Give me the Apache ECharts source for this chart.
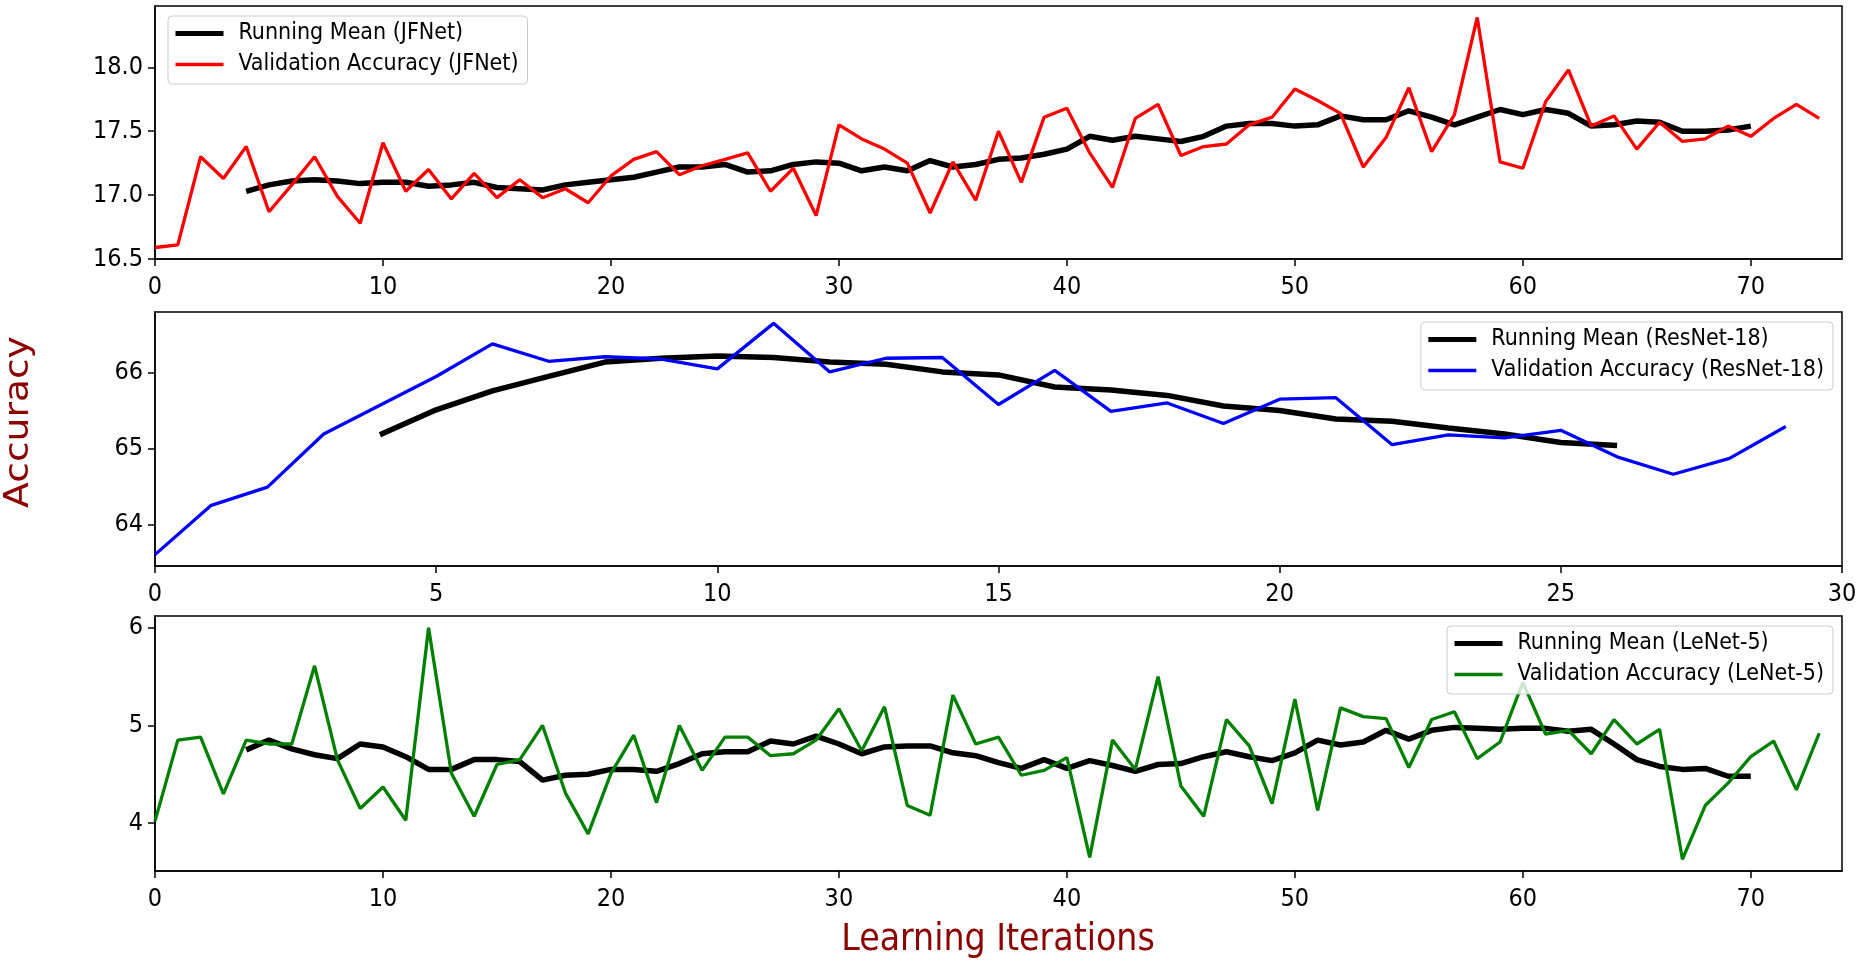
<!DOCTYPE html>
<html>
<head>
<meta charset="utf-8">
<title>Validation accuracy and running mean</title>
<script src="https://cdn.jsdelivr.net/npm/echarts@6/dist/echarts.min.js"></script>
<style>
  html, body { margin: 0; padding: 0; background: #fff; }
  #chart { width: 1865px; height: 960px; }
</style>
</head>
<body>
<div id="chart"></div>
<script>
// ---- data ----
// JFNet: validation accuracy per iteration (0..73), running mean from iteration 4
var jfnetValAcc = [
  16.59, 16.61, 17.30, 17.13, 17.38, 16.87, 17.08, 17.30, 16.99, 16.78,
  17.41, 17.03, 17.20, 16.97, 17.17, 16.98, 17.12, 16.98, 17.05, 16.94,
  17.15, 17.28, 17.34, 17.16, 17.23, 17.28, 17.33, 17.03, 17.21, 16.84,
  17.55, 17.44, 17.36, 17.25, 16.86, 17.26, 16.96, 17.50, 17.10, 17.61,
  17.68, 17.33, 17.06, 17.60, 17.71, 17.31, 17.38, 17.40, 17.55, 17.61,
  17.83, 17.74, 17.64, 17.22, 17.45, 17.84, 17.34, 17.63, 18.39, 17.26,
  17.21, 17.73, 17.98, 17.54, 17.62, 17.36, 17.57, 17.42, 17.44, 17.54,
  17.46, 17.60, 17.71, 17.60
];
var jfnetMeanStart = 4;
var jfnetMean = [
  17.03, 17.08, 17.11, 17.12, 17.11, 17.09, 17.10, 17.10, 17.07, 17.08,
  17.10, 17.06, 17.05, 17.04, 17.08, 17.10, 17.12, 17.14, 17.18, 17.22,
  17.22, 17.24, 17.18, 17.19, 17.24, 17.26, 17.25, 17.19, 17.22, 17.19,
  17.27, 17.22, 17.24, 17.28, 17.29, 17.32, 17.36, 17.46, 17.43, 17.46,
  17.44, 17.42, 17.46, 17.54, 17.56, 17.56, 17.54, 17.55, 17.62, 17.59,
  17.59, 17.66, 17.61, 17.55, 17.61, 17.67, 17.63, 17.67, 17.64, 17.54,
  17.55, 17.58, 17.57, 17.50, 17.50, 17.51, 17.54
];

// ResNet-18: iterations 0..29, running mean from iteration 4
var resnetValAcc = [
  63.60, 64.25, 64.49, 65.19, 65.57, 65.95, 66.38, 66.15, 66.21, 66.18,
  66.05, 66.65, 66.01, 66.19, 66.20, 65.58, 66.03, 65.49, 65.60, 65.33,
  65.65, 65.67, 65.05, 65.18, 65.14, 65.24, 64.89, 64.66, 64.87, 65.29
];
var resnetMeanStart = 4;
var resnetMean = [
  65.18, 65.51, 65.76, 65.95, 66.14, 66.19, 66.22, 66.20, 66.14, 66.11,
  66.01, 65.97, 65.81, 65.77, 65.70, 65.56, 65.50, 65.39, 65.36, 65.27,
  65.19, 65.08, 65.04
];

// LeNet-5: iterations 0..73, running mean from iteration 4
var lenetValAcc = [
  4.02, 4.85, 4.88, 4.30, 4.85, 4.81, 4.81, 5.61, 4.65, 4.15,
  4.37, 4.03, 6.00, 4.51, 4.07, 4.60, 4.65, 5.00, 4.31, 3.89,
  4.51, 4.90, 4.21, 5.00, 4.54, 4.88, 4.88, 4.69, 4.71, 4.85,
  5.17, 4.74, 5.19, 4.18, 4.08, 5.31, 4.81, 4.88, 4.49, 4.54,
  4.67, 3.65, 4.85, 4.55, 5.50, 4.38, 4.07, 5.06, 4.79, 4.20,
  5.27, 4.13, 5.18, 5.09, 5.07, 4.57, 5.06, 5.14, 4.66, 4.83,
  5.44, 4.91, 4.95, 4.71, 5.06, 4.81, 4.96, 3.63, 4.18, 4.41,
  4.68, 4.84, 4.34, 4.92
];
var lenetMeanStart = 4;
var lenetMean = [
  4.75, 4.85, 4.76, 4.70, 4.66, 4.81, 4.78, 4.68, 4.55, 4.55,
  4.65, 4.65, 4.63, 4.44, 4.49, 4.50, 4.55, 4.55, 4.53, 4.61,
  4.71, 4.73, 4.73, 4.84, 4.81, 4.89, 4.81, 4.71, 4.78, 4.79,
  4.79, 4.72, 4.69, 4.62, 4.56, 4.65, 4.56, 4.64, 4.59, 4.53,
  4.60, 4.61, 4.68, 4.73, 4.68, 4.64, 4.72, 4.85, 4.80, 4.83,
  4.95, 4.86, 4.95, 4.98, 4.97, 4.96, 4.97, 4.97, 4.94, 4.96,
  4.81, 4.65, 4.58, 4.55, 4.56, 4.48, 4.48
];

// tick labels
var xTicksLong = [0, 10, 20, 30, 40, 50, 60, 70];
var xTicksShort = [0, 5, 10, 15, 20, 25, 30];
var yTicksJFNet = [16.5, 17.0, 17.5, 18.0];
var yTicksResNet = [64, 65, 66];
var yTicksLeNet = [4, 5, 6];

// ---- chart ----
var FONT = 'DejaVu Sans Condensed, DejaVu Sans';
var LABEL_RED = '#8b0000';
var MEAN_W = 5.5, ACC_W = 3.3;

function pairs(values, start) {
  return values.map(function (v, i) { return [start + i, v]; });
}

function xAxis(grid, max, ticks) {
  return {
    type: 'value', gridIndex: grid, min: 0, max: max,
    axisLine: { onZero: false, lineStyle: { color: '#000', width: 1.5 } },
    axisTick: { customValues: ticks, length: 7, lineStyle: { color: '#000', width: 1.5 } },
    axisLabel: { customValues: ticks, margin: 16, color: '#000', fontSize: 25, fontFamily: FONT },
    splitLine: { show: false }
  };
}

function yAxis(grid, min, max, ticks, digits) {
  return {
    type: 'value', gridIndex: grid, min: min, max: max,
    axisLine: { show: true, lineStyle: { color: '#000', width: 1.5 } },
    axisTick: { show: true, customValues: ticks, length: 7, lineStyle: { color: '#000', width: 1.5 } },
    axisLabel: {
      customValues: ticks, margin: 12, color: '#000', fontSize: 25, fontFamily: FONT,
      formatter: function (v) { return v.toFixed(digits); }
    },
    splitLine: { show: false }
  };
}

function line(name, data, grid, color, width) {
  return {
    name: name, type: 'line', xAxisIndex: grid, yAxisIndex: grid,
    data: data, symbol: 'none', showSymbol: false, silent: true,
    lineStyle: { color: color, width: width }, itemStyle: { color: color },
    animation: false
  };
}

function legend(meanName, accName, pos) {
  var l = {
    data: [
      { name: meanName, lineStyle: { width: 5 } },
      { name: accName, lineStyle: { width: 3.3 } }
    ],
    orient: 'vertical', selectedMode: false,
    itemWidth: 48, itemHeight: 22, itemGap: 8,
    padding: [6, 9, 8, 5],
    backgroundColor: 'rgba(255,255,255,0.8)',
    borderColor: '#cccccc', borderWidth: 1, borderRadius: 4,
    itemStyle: { opacity: 0 },
    textStyle: { color: '#000', fontSize: 23, lineHeight: 22, fontFamily: FONT, padding: [0, 0, 0, 10] }
  };
  for (var k in pos) l[k] = pos[k];
  return l;
}

var chart = echarts.init(document.getElementById('chart'), null, { renderer: 'canvas' });

var gridBase = { left: 155, right: 23, show: true, borderColor: '#000', borderWidth: 1.5, containLabel: false };

var option = {
  backgroundColor: '#fff',
  animation: false,
  grid: [
    Object.assign({ top: 6, height: 253 }, gridBase),
    Object.assign({ top: 312, height: 254 }, gridBase),
    Object.assign({ top: 616, height: 255 }, gridBase)
  ],
  xAxis: [
    xAxis(0, 74, xTicksLong),
    xAxis(1, 30, xTicksShort),
    xAxis(2, 74, xTicksLong)
  ],
  yAxis: [
    yAxis(0, 16.5, 18.48, yTicksJFNet, 1),
    yAxis(1, 63.45, 66.8, yTicksResNet, 0),
    yAxis(2, 3.51, 6.12, yTicksLeNet, 0)
  ],
  legend: [
    legend('Running Mean (JFNet)', 'Validation Accuracy (JFNet)', { left: 168, top: 16 }),
    legend('Running Mean (ResNet-18)', 'Validation Accuracy (ResNet-18)', { right: 32, top: 322 }),
    legend('Running Mean (LeNet-5)', 'Validation Accuracy (LeNet-5)', { right: 32, top: 626 })
  ],
  series: [
    line('Running Mean (JFNet)', pairs(jfnetMean, jfnetMeanStart), 0, '#000', MEAN_W),
    line('Validation Accuracy (JFNet)', pairs(jfnetValAcc, 0), 0, '#ff0000', ACC_W),
    line('Running Mean (ResNet-18)', pairs(resnetMean, resnetMeanStart), 1, '#000', MEAN_W),
    line('Validation Accuracy (ResNet-18)', pairs(resnetValAcc, 0), 1, '#0000ff', ACC_W),
    line('Running Mean (LeNet-5)', pairs(lenetMean, lenetMeanStart), 2, '#000', MEAN_W),
    line('Validation Accuracy (LeNet-5)', pairs(lenetValAcc, 0), 2, '#008000', ACC_W)
  ],
  graphic: [
    {
      type: 'text', x: 19, y: 422, rotation: Math.PI / 2, scaleX: 1.14,
      style: {
        text: 'Accuracy', fill: LABEL_RED, fontSize: 33, fontFamily: 'DejaVu Sans',
        align: 'center', verticalAlign: 'middle'
      }
    },
    {
      type: 'text', x: 998, y: 940,
      style: {
        text: 'Learning Iterations', fill: LABEL_RED, fontSize: 37, fontFamily: FONT,
        align: 'center', verticalAlign: 'middle'
      }
    }
  ]
};

chart.setOption(option);
</script>
</body>
</html>
